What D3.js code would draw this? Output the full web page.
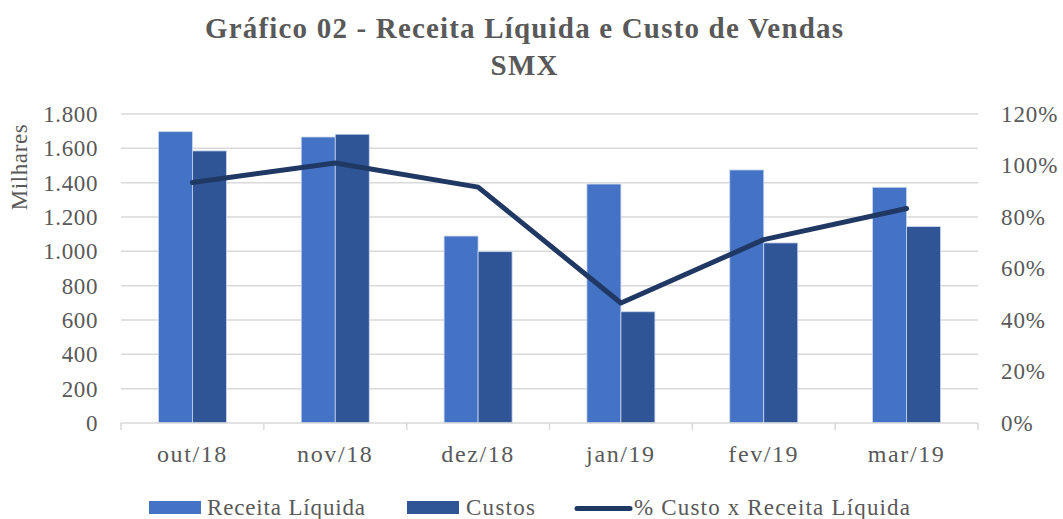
<!DOCTYPE html>
<html><head><meta charset="utf-8">
<script src="https://cdn.jsdelivr.net/npm/d3@7"></script>
<style>body{margin:0;background:#fff}svg{display:block}</style>
</head><body>
<script>
const categories = ["out/18","nov/18","dez/18","jan/19","fev/19","mar/19"];
const receita = [1697, 1666, 1089, 1392, 1474, 1373];
const custos = [1585, 1682, 998, 648, 1049, 1144];
const percent = [93.4, 101.0, 91.6, 46.6, 71.2, 83.3];
const leftTicks = [0,200,400,600,800,1000,1200,1400,1600,1800];
const rightTicks = [0,20,40,60,80,100,120];
const titleLines = ["Gráfico 02 - Receita Líquida e Custo de Vendas","SMX"];
const seriesNames = ["Receita Líquida","Custos","% Custo x Receita Líquida"];

const W=1063,H=519;
const font='"Liberation Serif","Times New Roman",serif';
const textColor="#595959";
const cRec="#4472C4", cCus="#2F5597", cLine="#203864";
const svg=d3.select("body").append("svg").attr("width",W).attr("height",H);
const m={l:121,r:978,t:114,b:423};
const x0=d3.scaleBand().domain(categories).range([m.l,m.r]).paddingInner(0.524).paddingOuter(0.262);
const xc=d3.scaleBand().domain(categories).range([m.l,m.r]);
const y=d3.scaleLinear().domain([0,1800]).range([m.b,m.t]);
const y2=d3.scaleLinear().domain([0,120]).range([m.b,m.t]);

// grid
svg.append("g").selectAll("line").data(leftTicks.slice(1)).join("line")
 .attr("x1",m.l).attr("x2",m.r).attr("y1",d=>y(d)).attr("y2",d=>y(d))
 .attr("stroke","#d9d9d9").attr("stroke-width",1.5);

// bars
const bw=x0.bandwidth()/2;
const g=svg.append("g");
g.selectAll(".r").data(categories).join("rect")
 .attr("x",d=>x0(d)).attr("width",bw)
 .attr("y",(d,i)=>y(receita[i])).attr("height",(d,i)=>y(0)-y(receita[i]))
 .attr("fill",cRec).attr("stroke","#c9d6ee").attr("stroke-width",0.8);
g.selectAll(".c").data(categories).join("rect")
 .attr("x",d=>x0(d)+bw).attr("width",bw)
 .attr("y",(d,i)=>y(custos[i])).attr("height",(d,i)=>y(0)-y(custos[i]))
 .attr("fill",cCus).attr("stroke","#c9d6ee").attr("stroke-width",0.8);

// x axis
const xa=svg.append("g").attr("transform",`translate(0,${m.b})`)
 .call(d3.axisBottom(xc).tickSize(0).tickPadding(0));
xa.select(".domain").remove();
xa.selectAll(".tick text").attr("dy",null).attr("y",39)
 .attr("font-family",font).attr("font-size",24).attr("letter-spacing",1.6).attr("fill",textColor);
svg.append("line").attr("x1",m.l).attr("x2",m.r).attr("y1",m.b).attr("y2",m.b).attr("stroke","#d9d9d9").attr("stroke-width",1.5);
svg.append("g").selectAll("line").data(d3.range(categories.length+1)).join("line")
 .attr("x1",i=>m.l+i*xc.step()).attr("x2",i=>m.l+i*xc.step())
 .attr("y1",m.b).attr("y2",m.b+7).attr("stroke","#d9d9d9").attr("stroke-width",1.5);

// left axis
const ya=svg.append("g").attr("transform",`translate(${m.l},0)`)
 .call(d3.axisLeft(y).tickValues(leftTicks).tickSize(0).tickPadding(23)
   .tickFormat(d=>d3.format(",")(d).replace(/,/g,".")));
ya.select(".domain").remove();
ya.selectAll(".tick text").attr("font-family",font).attr("font-size",23).attr("letter-spacing",0.6).attr("fill",textColor);

// right axis
const ya2=svg.append("g").attr("transform",`translate(${m.r},0)`)
 .call(d3.axisRight(y2).tickValues(rightTicks).tickSize(0).tickPadding(23).tickFormat(d=>d+"%"));
ya2.select(".domain").remove();
ya2.selectAll(".tick text").attr("font-family",font).attr("font-size",23).attr("letter-spacing",0.9).attr("fill",textColor);

// y title
svg.append("text").attr("transform","translate(27,167) rotate(-90)").attr("text-anchor","middle")
 .attr("font-family",font).attr("font-size",23).attr("letter-spacing",0.6).attr("fill",textColor).text("Milhares");

// line
const line=d3.line().x((d,i)=>xc(categories[i])+xc.bandwidth()/2).y(d=>y2(d));
svg.append("path").datum(percent).attr("d",line).attr("fill","none")
 .attr("stroke",cLine).attr("stroke-width",5).attr("stroke-linejoin","round").attr("stroke-linecap","round");

// title
const titleW=[638,67];
svg.append("g").selectAll("text").data(titleLines).join("text")
 .attr("x",524).attr("y",(d,i)=>38+i*37).attr("text-anchor","middle")
 .attr("textLength",(d,i)=>titleW[i]).attr("lengthAdjust","spacing")
 .attr("font-family",font).attr("font-weight","bold").attr("font-size",29).attr("fill",textColor).text(d=>d);

// legend
const lg=svg.append("g").attr("font-family",font).attr("font-size",23).attr("fill",textColor);
lg.append("rect").attr("x",149).attr("y",501).attr("width",52).attr("height",13).attr("fill",cRec);
lg.append("text").attr("x",207).attr("y",515).attr("textLength",158).attr("lengthAdjust","spacing").text(seriesNames[0]);
lg.append("rect").attr("x",407).attr("y",501).attr("width",52).attr("height",13).attr("fill",cCus);
lg.append("text").attr("x",466).attr("y",515).attr("textLength",69).attr("lengthAdjust","spacing").text(seriesNames[1]);
lg.append("line").attr("x1",577).attr("x2",630).attr("y1",508.5).attr("y2",508.5).attr("stroke",cLine).attr("stroke-width",5).attr("stroke-linecap","round");
lg.append("text").attr("x",634).attr("y",515).attr("textLength",276).attr("lengthAdjust","spacing").text(seriesNames[2]);
</script>
</body></html>
